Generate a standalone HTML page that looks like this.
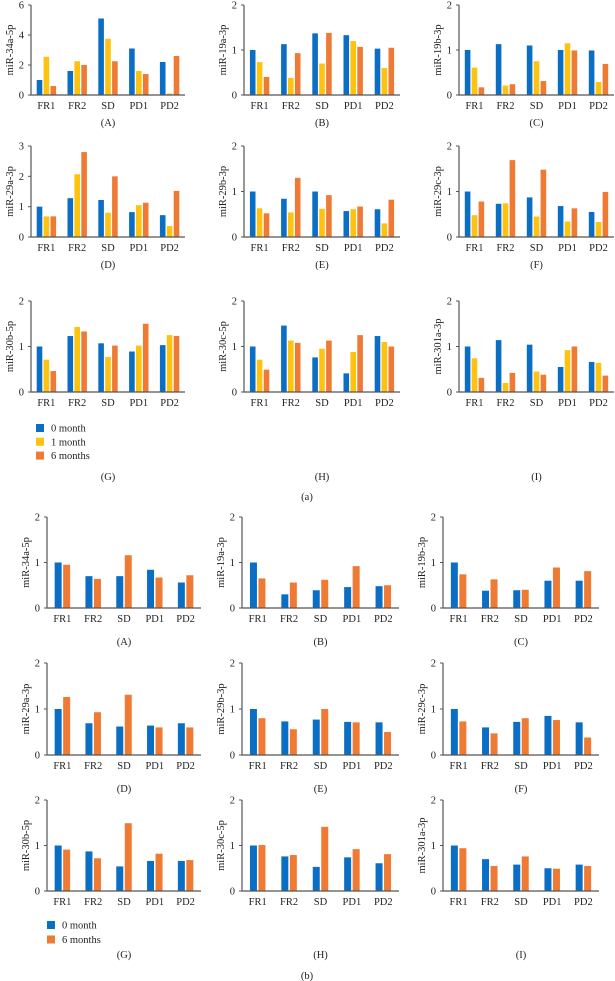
<!DOCTYPE html>
<html><head><meta charset="utf-8"><style>
html,body{margin:0;padding:0;background:#fff}
svg{display:block}
text{font-family:"Liberation Serif",serif;fill:#222}
</style></head><body>
<svg id="fig" width="615" height="981" viewBox="0 0 615 981" xmlns="http://www.w3.org/2000/svg"></svg>
<script>
const categories = ["FR1","FR2","SD","PD1","PD2"];
const seriesNamesA = ["0 month","1 month","6 months"];
const seriesNamesB = ["0 month","6 months"];
const panelLetters = ["(A)","(B)","(C)","(D)","(E)","(F)","(G)","(H)","(I)"];
const mirNames = ["miR-34a-5p","miR-19a-3p","miR-19b-3p","miR-29a-3p","miR-29b-3p","miR-29c-3p","miR-30b-5p","miR-30c-5p","miR-301a-3p"];
const yMaxA = [6,2,2,3,2,2,2,2,2];
const yTicksA = [[0,2,4,6],[0,1,2],[0,1,2],[0,1,2,3],[0,1,2],[0,1,2],[0,1,2],[0,1,2],[0,1,2]];
// part (a): [0 month, 1 month, 6 months] per category
const valsA_A = [[1.0,2.55,0.6],[1.6,2.25,2.0],[5.1,3.75,2.25],[3.1,1.6,1.4],[2.2,0.1,2.6]];
const valsA_B = [[1.0,0.73,0.4],[1.13,0.38,0.93],[1.37,0.7,1.38],[1.33,1.2,1.07],[1.03,0.6,1.05]];
const valsA_C = [[1.0,0.61,0.17],[1.13,0.21,0.24],[1.1,0.75,0.31],[1.0,1.15,0.99],[0.99,0.29,0.69]];
const valsA_D = [[1.0,0.68,0.68],[1.28,2.07,2.8],[1.22,0.8,2.0],[0.82,1.05,1.13],[0.72,0.36,1.52]];
const valsA_E = [[1.0,0.63,0.52],[0.84,0.54,1.3],[1.0,0.62,0.92],[0.57,0.61,0.67],[0.61,0.3,0.82]];
const valsA_F = [[1.0,0.48,0.78],[0.73,0.74,1.69],[0.87,0.45,1.48],[0.68,0.34,0.63],[0.55,0.33,0.99]];
const valsA_G = [[1.0,0.71,0.46],[1.23,1.43,1.33],[1.07,0.77,1.02],[0.89,1.02,1.5],[1.03,1.25,1.23]];
const valsA_H = [[1.0,0.71,0.49],[1.46,1.13,1.08],[0.76,0.95,1.13],[0.41,0.88,1.25],[1.23,1.1,1.0]];
const valsA_I = [[1.0,0.74,0.31],[1.14,0.2,0.42],[1.04,0.45,0.38],[0.55,0.92,1.0],[0.66,0.64,0.36]];
// part (b): [0 month, 6 months]
const valsB_A = [[1.0,0.95],[0.7,0.64],[0.7,1.16],[0.84,0.67],[0.56,0.72]];
const valsB_B = [[1.0,0.65],[0.3,0.56],[0.39,0.62],[0.46,0.92],[0.48,0.5]];
const valsB_C = [[1.0,0.74],[0.38,0.63],[0.39,0.4],[0.6,0.89],[0.6,0.81]];
const valsB_D = [[1.0,1.26],[0.69,0.93],[0.62,1.31],[0.64,0.6],[0.69,0.6]];
const valsB_E = [[1.0,0.8],[0.73,0.56],[0.77,1.0],[0.72,0.71],[0.71,0.5]];
const valsB_F = [[1.0,0.73],[0.6,0.47],[0.72,0.8],[0.85,0.76],[0.71,0.38]];
const valsB_G = [[1.0,0.91],[0.87,0.72],[0.54,1.49],[0.66,0.82],[0.66,0.68]];
const valsB_H = [[1.0,1.01],[0.76,0.79],[0.53,1.41],[0.74,0.92],[0.61,0.81]];
const valsB_I = [[1.0,0.94],[0.7,0.55],[0.58,0.76],[0.5,0.49],[0.58,0.55]];
const yMaxB = [2,2,2,2,2,2,2,2,2];
const yTicksB = [0,1,2];

const dataA = [valsA_A,valsA_B,valsA_C,valsA_D,valsA_E,valsA_F,valsA_G,valsA_H,valsA_I];
const dataB = [valsB_A,valsB_B,valsB_C,valsB_D,valsB_E,valsB_F,valsB_G,valsB_H,valsB_I];
const colorsA = ["#0b6ec5","#ffc20e","#ee7a33"];
const colorsB = ["#0b6ec5","#ee7a33"];

const NS="http://www.w3.org/2000/svg";
const svg=document.getElementById('fig');
function mk(tag,attrs,parent){const e=document.createElementNS(NS,tag);for(const k in attrs)e.setAttribute(k,attrs[k]);(parent||svg).appendChild(e);return e;}
function txt(s,attrs,parent){const e=mk('text',attrs,parent);e.textContent=s;return e;}

function drawChart(part,i,x0,x1,top,base,vals,yMax,ticks,colors,barW,gap,letterDy){
  const g=mk('g',{});
  
  
  const y=v=>base-(v/yMax)*(base-top);
  const band=(x1-x0)/categories.length;
  const xc=j=>x0+band*(j+0.5);
  const n=colors.length, tw=n*barW+(n-1)*gap;
  vals.forEach((grp,j)=>{
    grp.forEach((v,s)=>{
      const r=mk('rect',{x:(xc(j)-tw/2+s*(barW+gap)).toFixed(2),y:y(v).toFixed(2),width:barW,height:(base-y(v)).toFixed(2),fill:colors[s]},g);
      
      
    });
  });
  const ax=mk('path',{d:`M${x0},${top} V${base} H${x1}`,stroke:'#555','stroke-width':1.2,fill:'none'},g);
  
  
  ticks.forEach(t=>{
    mk('line',{x1:x0-3,x2:x0,y1:y(t),y2:y(t),stroke:'#555','stroke-width':1},g);
    const tl=txt(String(t),{x:x0-7,y:y(t)+3.5,'font-size':10.5,'text-anchor':'end'},g);
    
    
  });
  categories.forEach((c,j)=>{
    const cl=txt(c,{x:xc(j),y:base+14,'font-size':10.5,'text-anchor':'middle'},g);
    
    
  });
  const ym=(top+base)/2;
  const yt=txt(mirNames[i],{x:x0-18,y:ym,'font-size':10.5,'text-anchor':'middle',transform:`rotate(-90 ${x0-18} ${ym})`},g);
  
  
  const pl=txt(panelLetters[i],{x:(x0+x1)/2,y:base+letterDy,'font-size':10.5,'text-anchor':'middle'},g);
  
  
}

const colXA=[[31,185],[244,400],[459,614]];
const rowYA=[[5,95],[146,237],[301,392]];
const colXB=[[47,201],[242,399],[443,599]];
const rowYB=[[517,608],[663,755],[800,891]];
for(let i=0;i<9;i++){
  const c=i%3,r=Math.floor(i/3);
  drawChart('a',i,colXA[c][0],colXA[c][1],rowYA[r][0],rowYA[r][1],dataA[i],yMaxA[i],yTicksA[i],colorsA,5.6,1.3,r==2?88:31);
  drawChart('b',i,colXB[c][0],colXB[c][1],rowYB[r][0],rowYB[r][1],dataB[i],yMaxB[i],yTicksB,colorsB,7,1.5,r==2?67:37);
}
function legend(names,colors,x,y0,dy,nm){
  const g=mk('g',{});
  
  
  names.forEach((n,k)=>{
    const cy=y0+k*dy;
    mk('rect',{x:x,y:cy-4,width:8,height:8,fill:colors[k]},g);
    const t=txt(n,{x:x+15,y:cy+3.5,'font-size':10.5},g);
    
    
  });
}
legend(seriesNamesA,colorsA,36,428,13.8,'legend-a');
legend(seriesNamesB,colorsB,47,925,14.5,'legend-b');
const la=txt('(a)',{x:307,y:500,'font-size':10.5,'text-anchor':'middle'});


const lb=txt('(b)',{x:307,y:979,'font-size':10.5,'text-anchor':'middle'});


</script>
</body></html>
